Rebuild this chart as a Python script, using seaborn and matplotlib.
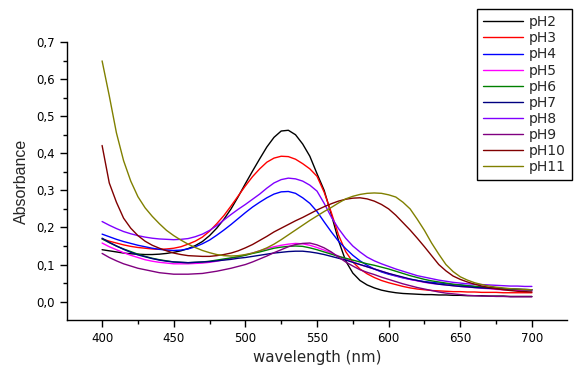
import numpy as np
import pandas as pd
import matplotlib
matplotlib.use('Agg')
import matplotlib.pyplot as plt
from matplotlib.ticker import MultipleLocator, FuncFormatter
import seaborn as sns

# wavelength grid (nm), 400 -> 700 every 5 nm
wavelength = list(range(400, 705, 5))

pH2 = [0.140, 0.137, 0.134, 0.131, 0.129, 0.128, 0.127, 0.127, 0.128, 0.130,
       0.133, 0.137, 0.143, 0.151, 0.162, 0.178, 0.198, 0.222, 0.250, 0.283,
       0.318, 0.352, 0.385, 0.417, 0.443, 0.460, 0.462, 0.450, 0.425, 0.392,
       0.345, 0.300, 0.235, 0.165, 0.110, 0.077, 0.057, 0.045, 0.037, 0.031,
       0.027, 0.024, 0.022, 0.021, 0.020, 0.019, 0.019, 0.018, 0.018, 0.017,
       0.017, 0.016, 0.016, 0.016, 0.015, 0.015, 0.015, 0.014, 0.014, 0.014, 0.014]
pH3 = [0.169, 0.163, 0.158, 0.153, 0.149, 0.146, 0.144, 0.142, 0.141, 0.142,
       0.144, 0.148, 0.155, 0.163, 0.174, 0.190, 0.210, 0.232, 0.258, 0.285,
       0.312, 0.337, 0.358, 0.376, 0.387, 0.392, 0.391, 0.384, 0.372, 0.358,
       0.338, 0.295, 0.240, 0.180, 0.135, 0.107, 0.088, 0.075, 0.065, 0.057,
       0.051, 0.046, 0.041, 0.037, 0.034, 0.032, 0.030, 0.029, 0.028, 0.027,
       0.027, 0.026, 0.026, 0.025, 0.025, 0.025, 0.024, 0.024, 0.024, 0.024, 0.024]
pH4 = [0.182, 0.175, 0.168, 0.162, 0.157, 0.152, 0.148, 0.144, 0.141, 0.139,
       0.138, 0.139, 0.142, 0.148, 0.156, 0.166, 0.179, 0.193, 0.208, 0.224,
       0.240, 0.255, 0.268, 0.280, 0.290, 0.296, 0.297, 0.292, 0.280, 0.265,
       0.243, 0.215, 0.188, 0.163, 0.143, 0.125, 0.110, 0.098, 0.088, 0.080,
       0.074, 0.069, 0.064, 0.060, 0.057, 0.054, 0.052, 0.050, 0.048, 0.046,
       0.045, 0.043, 0.041, 0.040, 0.038, 0.037, 0.035, 0.034, 0.033, 0.032, 0.031]
pH5 = [0.158, 0.148, 0.140, 0.132, 0.125, 0.119, 0.113, 0.109, 0.106, 0.104,
       0.102, 0.102, 0.102, 0.103, 0.104, 0.106, 0.109, 0.113, 0.117, 0.121,
       0.126, 0.131, 0.137, 0.143, 0.148, 0.152, 0.155, 0.157, 0.156, 0.152,
       0.146, 0.139, 0.131, 0.123, 0.115, 0.107, 0.100, 0.094, 0.088, 0.082,
       0.076, 0.070, 0.065, 0.060, 0.056, 0.052, 0.049, 0.047, 0.045, 0.043,
       0.041, 0.039, 0.038, 0.036, 0.035, 0.033, 0.032, 0.031, 0.030, 0.030, 0.029]
pH6 = [0.169, 0.159, 0.150, 0.142, 0.135, 0.128, 0.122, 0.117, 0.113, 0.110,
       0.107, 0.106, 0.105, 0.106, 0.107, 0.109, 0.112, 0.115, 0.118, 0.121,
       0.125, 0.130, 0.134, 0.139, 0.144, 0.147, 0.149, 0.150, 0.149, 0.145,
       0.140, 0.134, 0.128, 0.122, 0.117, 0.112, 0.107, 0.102, 0.098, 0.093,
       0.088, 0.082, 0.076, 0.070, 0.065, 0.060, 0.056, 0.053, 0.050, 0.047,
       0.045, 0.043, 0.041, 0.039, 0.038, 0.036, 0.035, 0.034, 0.033, 0.032, 0.032]
pH7 = [0.171, 0.160, 0.150, 0.141, 0.133, 0.126, 0.121, 0.116, 0.112, 0.109,
       0.107, 0.106, 0.105, 0.106, 0.107, 0.108, 0.110, 0.112, 0.114, 0.117,
       0.119, 0.122, 0.125, 0.128, 0.131, 0.133, 0.135, 0.136, 0.136, 0.134,
       0.131, 0.127, 0.122, 0.117, 0.112, 0.106, 0.100, 0.094, 0.088, 0.082,
       0.076, 0.071, 0.066, 0.061, 0.057, 0.053, 0.050, 0.047, 0.045, 0.043,
       0.041, 0.040, 0.038, 0.037, 0.036, 0.035, 0.034, 0.034, 0.033, 0.033, 0.032]
pH8 = [0.216, 0.206, 0.197, 0.189, 0.183, 0.178, 0.174, 0.171, 0.169, 0.168,
       0.167, 0.168, 0.170, 0.175, 0.182, 0.192, 0.205, 0.220, 0.235, 0.249,
       0.262, 0.276, 0.290, 0.306, 0.320, 0.329, 0.333, 0.331, 0.325, 0.314,
       0.298, 0.265, 0.228, 0.197, 0.171, 0.150, 0.134, 0.120, 0.110, 0.102,
       0.095, 0.088, 0.082, 0.076, 0.070, 0.066, 0.062, 0.058, 0.055, 0.052,
       0.050, 0.048, 0.047, 0.046, 0.045, 0.044, 0.043, 0.042, 0.042, 0.041, 0.041]
pH9 = [0.130, 0.119, 0.110, 0.102, 0.096, 0.090, 0.086, 0.082, 0.078, 0.076,
       0.074, 0.074, 0.074, 0.075, 0.076, 0.079, 0.082, 0.086, 0.090, 0.095,
       0.100, 0.107, 0.115, 0.123, 0.132, 0.140, 0.148, 0.154, 0.157, 0.158,
       0.153, 0.145, 0.134, 0.120, 0.107, 0.096, 0.086, 0.079, 0.073, 0.066,
       0.060, 0.054, 0.048, 0.043, 0.038, 0.034, 0.030, 0.026, 0.023, 0.021,
       0.019, 0.017, 0.016, 0.015, 0.015, 0.014, 0.014, 0.013, 0.013, 0.013, 0.013]
pH10 = [0.421, 0.320, 0.268, 0.225, 0.198, 0.178, 0.163, 0.152, 0.144, 0.137,
        0.131, 0.127, 0.124, 0.123, 0.122, 0.122, 0.124, 0.127, 0.131, 0.137,
        0.145, 0.154, 0.165, 0.176, 0.188, 0.198, 0.208, 0.218, 0.227, 0.237,
        0.247, 0.256, 0.264, 0.271, 0.276, 0.279, 0.280, 0.277, 0.271, 0.262,
        0.250, 0.233, 0.213, 0.193, 0.171, 0.148, 0.124, 0.100, 0.083, 0.069,
        0.060, 0.053, 0.047, 0.042, 0.038, 0.035, 0.032, 0.030, 0.028, 0.027, 0.026]
pH11 = [0.649, 0.555, 0.455, 0.380, 0.325, 0.283, 0.253, 0.230, 0.210, 0.192,
        0.178, 0.166, 0.155, 0.146, 0.138, 0.132, 0.127, 0.124, 0.123, 0.124,
        0.127, 0.131, 0.137, 0.145, 0.155, 0.167, 0.180, 0.193, 0.206, 0.219,
        0.231, 0.243, 0.254, 0.266, 0.277, 0.284, 0.289, 0.292, 0.293, 0.292,
        0.288, 0.282, 0.268, 0.250, 0.222, 0.192, 0.158, 0.128, 0.100, 0.081,
        0.067, 0.058, 0.051, 0.046, 0.042, 0.039, 0.037, 0.035, 0.034, 0.033, 0.032]

labels = ['pH2', 'pH3', 'pH4', 'pH5', 'pH6', 'pH7', 'pH8', 'pH9', 'pH10', 'pH11']
series = [pH2, pH3, pH4, pH5, pH6, pH7, pH8, pH9, pH10, pH11]
colors = ['#000000', '#FF0000', '#0000FF', '#FF00FF', '#008000',
          '#000080', '#8000FF', '#800080', '#800000', '#808000']

frames = []
for lab, vals in zip(labels, series):
    frames.append(pd.DataFrame({'wavelength': wavelength, 'Absorbance': vals, 'pH': lab}))
df = pd.concat(frames, ignore_index=True)

sns.set_style('ticks')
plt.rcParams['font.family'] = ['DejaVu Sans']

fig = plt.figure(figsize=(5.74, 3.65), dpi=100)
ax = fig.add_axes([67/574, 1 - 320/365, 500/574, 278/365])

sns.lineplot(data=df, x='wavelength', y='Absorbance', hue='pH', hue_order=labels,
             palette=colors, linewidth=1.0, ax=ax, legend=True)

ax.set_xlim(375.5, 724.5)
ax.set_ylim(-0.0495, 0.7)
ax.xaxis.set_major_locator(MultipleLocator(50))
ax.xaxis.set_minor_locator(MultipleLocator(25))
ax.yaxis.set_major_locator(MultipleLocator(0.1))
ax.yaxis.set_minor_locator(MultipleLocator(0.05))
ax.yaxis.set_major_formatter(FuncFormatter(lambda v, p: ('%.1f' % v).replace('.', ',')))

sns.despine(ax=ax)
for s in ['left', 'bottom']:
    ax.spines[s].set_linewidth(1.0)
    ax.spines[s].set_color('black')
ax.tick_params(which='major', length=5, width=1.0, labelsize=8.5, pad=4, colors='black')
ax.tick_params(which='minor', length=3, width=1.0, colors='black')

ax.set_xlabel('wavelength (nm)', fontsize=10.8, labelpad=3)
ax.set_ylabel('Absorbance', fontsize=11.5, labelpad=5,
              family=['Liberation Sans', 'DejaVu Sans'])

handles, labs = ax.get_legend_handles_labels()
leg = ax.legend(handles, labs, loc='upper right', bbox_to_anchor=(572/574, 1 - 9/365),
                bbox_transform=fig.transFigure, borderaxespad=0, fontsize=10,
                frameon=True, fancybox=False, edgecolor='black', framealpha=1,
                handlelength=2.9, handletextpad=0.4, labelspacing=0.15, borderpad=0.45)
leg.get_frame().set_linewidth(1.0)

fig.savefig('out.png', dpi=100)
